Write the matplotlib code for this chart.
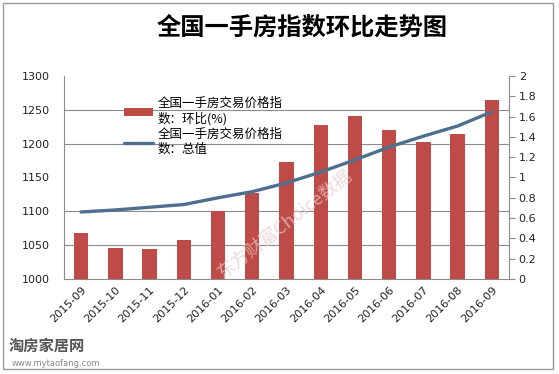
import matplotlib.pyplot as plt
from matplotlib.patches import Rectangle

plt.rcParams['font.family'] = ['DejaVu Sans', 'Noto Sans CJK SC']

months = ['2015-09', '2015-10', '2015-11', '2015-12', '2016-01', '2016-02', '2016-03',
          '2016-04', '2016-05', '2016-06', '2016-07', '2016-08', '2016-09']
# 环比 (%), right axis
mom_pct = [0.45, 0.31, 0.30, 0.38, 0.67, 0.85, 1.15, 1.52, 1.61, 1.47, 1.35, 1.43, 1.76]
# 总值, left axis
index_total = [1099, 1102, 1106, 1110, 1120, 1129, 1142, 1158, 1176, 1195, 1211, 1226, 1247]

left_ticks = [1000, 1050, 1100, 1150, 1200, 1250, 1300]
right_ticks = [0, 0.2, 0.4, 0.6, 0.8, 1, 1.2, 1.4, 1.6, 1.8, 2]
right_labels = ['0', '0.2', '0.4', '0.6', '0.8', '1', '1.2', '1.4', '1.6', '1.8', '2']

cjk = ['Noto Sans CJK SC', 'DejaVu Sans']
bar_color = '#BE4B48'
line_color = '#4F6F8F'
grid_color = '#8C8C8C'

fig = plt.figure(figsize=(5.59, 3.74), dpi=100)
rect = [0.1145, 0.254, 0.796, 0.543]

# bars on the right-hand scale
ax_bar = fig.add_axes(rect)
x = list(range(len(months)))
bars = ax_bar.bar(x, mom_pct, width=0.42, color=bar_color, zorder=2,
                  label='全国一手房交易价格指\n数：环比(%)')
ax_bar.set_ylim(0, 2)
ax_bar.set_xlim(-0.5, len(months) - 0.5)
ax_bar.yaxis.tick_right()
ax_bar.set_yticks(right_ticks)
ax_bar.set_yticklabels(right_labels)
ax_bar.tick_params(axis='y', which='major', length=4, color=grid_color,
                   labelsize=8, labelcolor='#222222', pad=3)
# horizontal grid aligned with the left-axis ticks
grid_pos = [(t - left_ticks[0]) / (left_ticks[-1] - left_ticks[0]) * 2 for t in left_ticks]
ax_bar.set_yticks(grid_pos, minor=True)
ax_bar.tick_params(axis='y', which='minor', length=0)
ax_bar.grid(axis='y', which='minor', color=grid_color, linewidth=0.8, zorder=0)
ax_bar.set_axisbelow(True)
ax_bar.set_xticks(x)
ax_bar.set_xticklabels(months, rotation=45, ha='right', rotation_mode='anchor', fontsize=8,
                       color='#222222')
ax_bar.tick_params(axis='x', length=0, pad=4)
ax_bar.spines['top'].set_visible(False)
for side in ['left', 'right', 'bottom']:
    ax_bar.spines[side].set_color(grid_color)
    ax_bar.spines[side].set_linewidth(0.8)

# line on the left-hand scale
ax_line = fig.add_axes(rect, sharex=ax_bar)
ax_line.patch.set_visible(False)
line, = ax_line.plot(x, index_total, color=line_color, linewidth=2.4,
                     solid_capstyle='round', label='全国一手房交易价格指\n数：总值')
ax_line.set_ylim(left_ticks[0], left_ticks[-1])
ax_line.set_yticks(left_ticks)
ax_line.tick_params(axis='y', length=0, labelsize=8, labelcolor='#222222', pad=10)
ax_line.tick_params(axis='x', bottom=False, labelbottom=False)
for s in ax_line.spines.values():
    s.set_visible(False)

leg = ax_line.legend([bars, line], [bars.get_label(), line.get_label()],
                     loc='upper left', bbox_to_anchor=(0.11, 0.95), frameon=False,
                     prop={'family': cjk, 'size': 9}, handlelength=2.3,
                     handleheight=0.6, labelspacing=0.15, handletextpad=0.4)

fig.text(0.54, 0.925, '全国一手房指数环比走势图', ha='center', va='center',
         fontsize=17.5, fontweight='bold', family=cjk)

# watermark and logo
fig.text(0.51, 0.40, '东方财富Choice数据', rotation=38, ha='center', va='center',
         fontsize=13, color='#E8C8C8', alpha=0.7, family=cjk)
fig.text(0.015, 0.075, '淘房家居网', ha='left', va='center', fontsize=11,
         fontweight='bold', color='#555555', family=cjk)
fig.text(0.02, 0.028, 'www.mytaofang.com', ha='left', va='center', fontsize=6,
         color='#888888')

fig.add_artist(Rectangle((0.005, 0.013), 0.984, 0.979, transform=fig.transFigure,
                         fill=False, edgecolor='#999999', linewidth=1))

fig.savefig('out.png', dpi=100)
